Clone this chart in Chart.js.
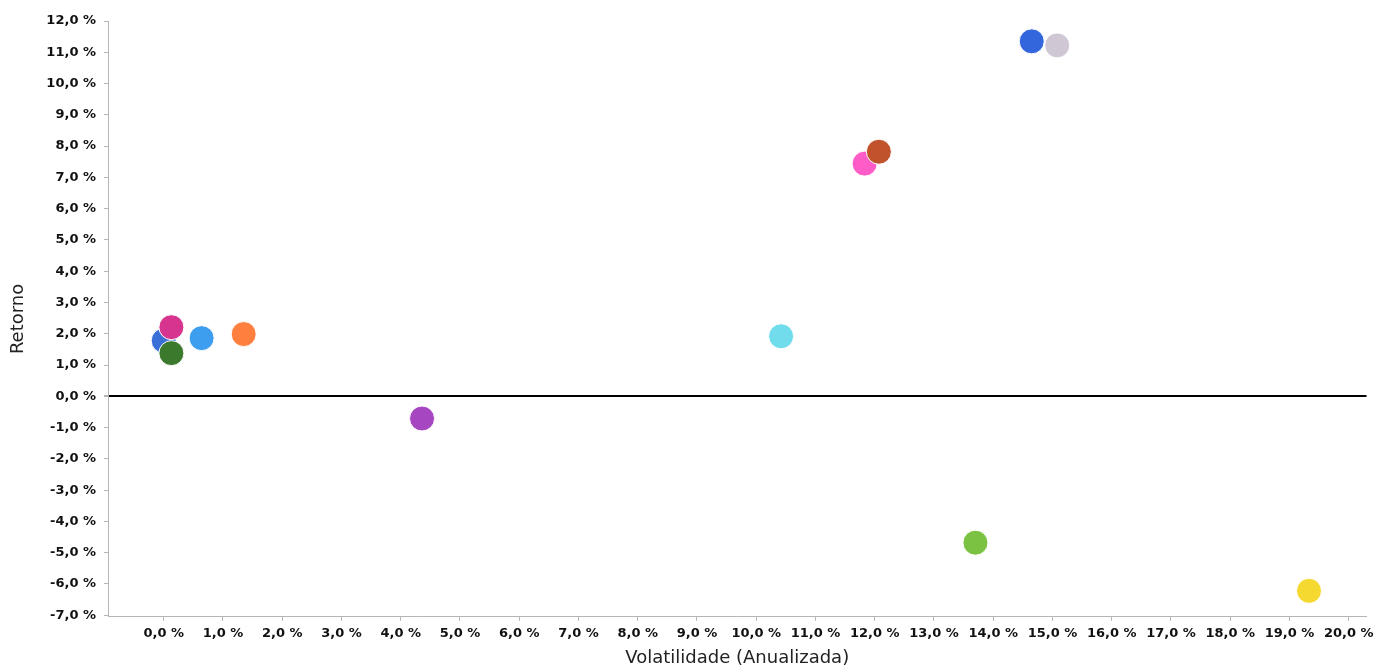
<!DOCTYPE html>
<html>
<head>
<meta charset="utf-8">
<script src="https://cdn.jsdelivr.net/npm/chart.js@4/dist/chart.umd.min.js"></script>
<style>
  html, body { margin: 0; padding: 0; background: #fff; }
  #wrap { width: 1380px; height: 669px; }
</style>
</head>
<body>
<div id="wrap"><canvas id="riscoRetorno"></canvas></div>
<script>
// Volatilidade anualizada (x) e retorno (y) de cada fundo, em %
const volatilidade = [0.0, 15.08, 0.13, 0.13, 0.64, 1.35, 4.36, 10.42, 11.83, 12.07, 14.65, 13.70, 19.33];
const retorno      = [1.78, 11.22, 1.38, 2.21, 1.86, 1.99, -0.71, 1.92, 7.44, 7.82, 11.35, -4.68, -6.22];
const cores = ['#3a6fd8', '#cfc8d4', '#3b7a2c', '#d6348f', '#3d9def', '#ff7f3f', '#a646c0',
               '#70dcec', '#ff5cc8', '#c0532b', '#3366dd', '#7cc242', '#f5d830'];

const xTicks = [0, 1, 2, 3, 4, 5, 6, 7, 8, 9, 10, 11, 12, 13, 14, 15, 16, 17, 18, 19, 20];
const yTicks = [-7, -6, -5, -4, -3, -2, -1, 0, 1, 2, 3, 4, 5, 6, 7, 8, 9, 10, 11, 12];

const pontos = volatilidade.map((v, i) => ({ x: v, y: retorno[i] }));
const fmt = v => v.toFixed(1).replace('.', ',') + ' %';
const fonteTick = { family: 'DejaVu Sans', size: 13, weight: 'bold' };
const fonteTitulo = { family: 'DejaVu Sans', size: 18 };

const config = {
  type: 'scatter',
  data: {
    datasets: [{
      data: pontos,
      backgroundColor: cores,
      borderColor: '#ffffff',
      borderWidth: 1,
      pointRadius: 12.5,
      pointHoverRadius: 12.5
    }]
  },
  options: {
    responsive: true,
    maintainAspectRatio: false,
    animation: false,
    events: [],
    layout: { padding: { top: 21, right: 2, left: 0, bottom: 0 } },
    plugins: {
      legend: { display: false },
      tooltip: { enabled: false }
    },
    scales: {
      x: {
        type: 'linear',
        min: -0.94,
        max: 20.3,
        afterBuildTicks: s => { s.ticks = xTicks.map(v => ({ value: v })); },
        border: { color: '#b5b5b5', width: 1 },
        grid: { color: 'transparent', tickColor: '#b5b5b5', tickLength: 4 },
        ticks: { color: '#111', font: fonteTick, padding: 5, maxRotation: 0, autoSkip: false, callback: v => fmt(v) },
        title: { display: true, text: 'Volatilidade (Anualizada)', color: '#222', font: fonteTitulo, padding: { top: 1, bottom: 0 } }
      },
      y: {
        type: 'linear',
        min: -7.05,
        max: 12,
        afterBuildTicks: s => { s.ticks = yTicks.map(v => ({ value: v })); },
        afterFit: s => { s.width = 108; },
        border: { color: '#b5b5b5', width: 1 },
        grid: {
          color: c => (c.tick && c.tick.value === 0) ? '#000' : 'transparent',
          lineWidth: c => (c.tick && c.tick.value === 0) ? 2 : 1,
          tickColor: '#b5b5b5',
          tickLength: 4
        },
        ticks: { color: '#111', font: fonteTick, padding: 8, autoSkip: false, callback: v => fmt(v) },
        title: { display: true, text: 'Retorno', color: '#222', font: fonteTitulo, padding: { top: 8, bottom: 0 } }
      }
    }
  }
};

new Chart(document.getElementById('riscoRetorno'), config);
</script>
</body>
</html>
